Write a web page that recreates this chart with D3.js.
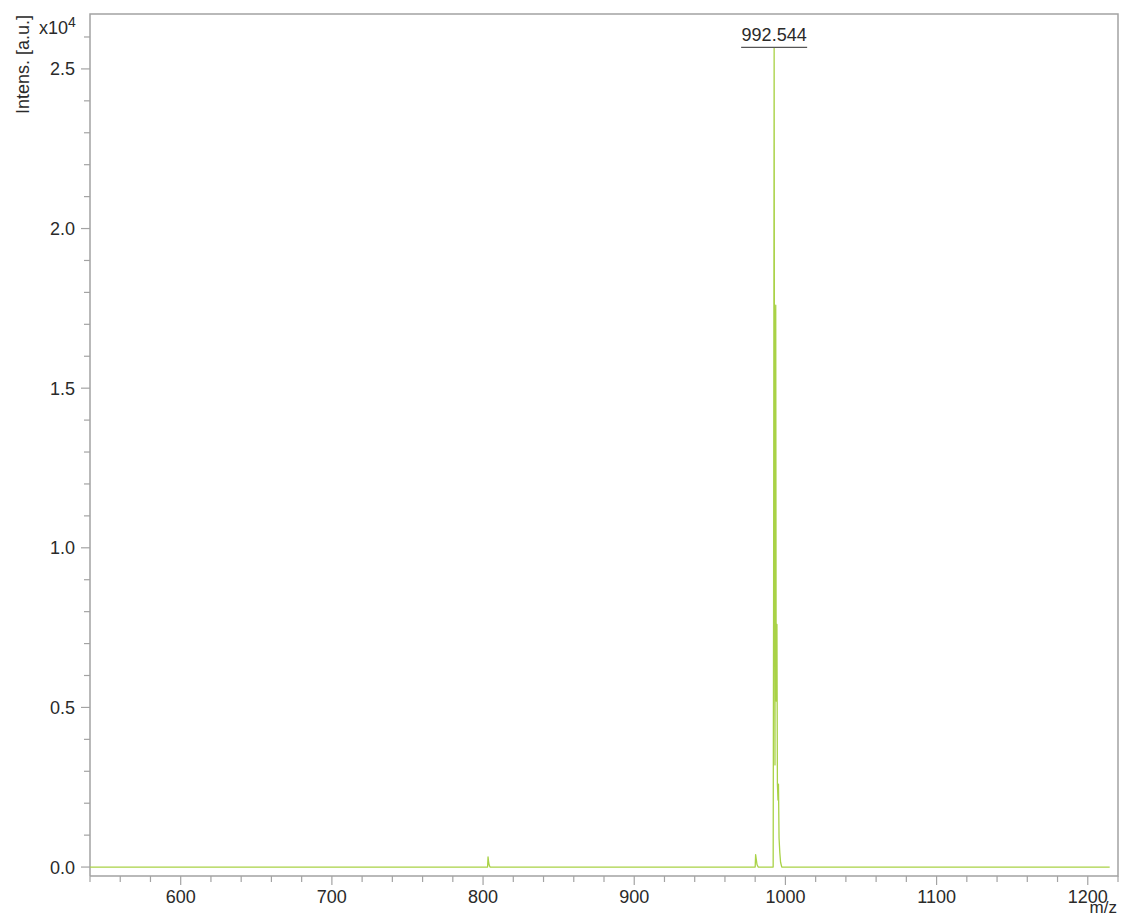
<!DOCTYPE html>
<html>
<head>
<meta charset="utf-8">
<script src="https://cdn.jsdelivr.net/npm/d3@7"></script>
<style>
  body { margin: 0; background: #fff; }
  text { font-family: "Liberation Sans", Arial, sans-serif; fill: #2a2a2a; }
</style>
</head>
<body>
<script>
// spectrum points: m/z and intensity
var mz = [540, 803.0, 803.3, 803.6, 804.0, 804.6, 980.0, 980.3, 980.7, 981.2, 982.0,
          991.9, 992.2, 992.544, 992.8, 993.1, 993.4, 993.6, 993.9, 994.2, 994.4, 994.7,
          995.1, 995.4, 995.8, 996.3, 996.8, 997.6, 1214.5];
var intens = [0, 0, 320, 190, 70, 0, 0, 390, 250, 80, 0,
              0, 9000, 25660, 11000, 3200, 16900, 17600, 5200, 6700, 7600, 2600,
              2100, 2600, 900, 450, 150, 0, 0];

var peakLabels = [{ mz: 992.544, intens: 25660, text: "992.544" }];

var xMajor = [600, 700, 800, 900, 1000, 1100, 1200];
var yMajor = [0, 5000, 10000, 15000, 20000, 25000];

var W = 1121, H = 917;
var pLeft = 90, pRight = 1118, pTop = 14, pBottom = 876;
var axisColor = "#a3a3a3";
var lineColor = "#a9d246";

var x = d3.scaleLinear().domain([540, 1220]).range([pLeft, pRight]);
var y = d3.scaleLinear().domain([-280, 26720]).range([pBottom, pTop]);

var svg = d3.select("body").append("svg").attr("width", W).attr("height", H);

// frame
svg.append("path")
    .attr("fill", "none")
    .attr("stroke", axisColor)
    .attr("stroke-width", 1.5)
    .attr("d", "M" + pLeft + "," + pBottom + "V" + pTop + "H" + pRight + "V" + pBottom + "H" + pLeft);

// x axis
var xMinor = d3.range(540, 1221, 20);
svg.append("g").selectAll("line").data(xMinor).join("line")
    .attr("x1", function(d){ return x(d); }).attr("x2", function(d){ return x(d); })
    .attr("y1", pBottom).attr("y2", function(d){ return xMajor.indexOf(d) >= 0 ? pBottom + 9 : pBottom + 6; })
    .attr("stroke", axisColor).attr("stroke-width", 1.2);
svg.append("g").selectAll("text").data(xMajor).join("text")
    .attr("x", function(d){ return x(d); })
    .attr("y", 903)
    .attr("text-anchor", "middle")
    .style("font-size", "18px")
    .text(function(d){ return d; });
svg.append("text").attr("x", 1117).attr("y", 913).attr("text-anchor", "end")
    .style("font-size", "17px").text("m/z");

// y axis
var yMinor = d3.range(0, 26001, 1000);
svg.append("g").selectAll("line").data(yMinor).join("line")
    .attr("y1", function(d){ return y(d); }).attr("y2", function(d){ return y(d); })
    .attr("x1", pLeft).attr("x2", function(d){ return yMajor.indexOf(d) >= 0 ? pLeft - 9 : pLeft - 6; })
    .attr("stroke", axisColor).attr("stroke-width", 1.2);
svg.append("g").selectAll("text").data(yMajor).join("text")
    .attr("x", 75)
    .attr("y", function(d){ return y(d) + 6.5; })
    .attr("text-anchor", "end")
    .style("font-size", "18px")
    .text(function(d){ return (d / 10000).toFixed(1); });

svg.append("text")
    .attr("transform", "translate(29,15) rotate(-90)")
    .attr("text-anchor", "end")
    .style("font-size", "18px")
    .text("Intens. [a.u.]");
var sc = svg.append("text").attr("x", 39).attr("y", 34).style("font-size", "18px");
sc.append("tspan").text("x10");
sc.append("tspan").attr("dy", -7).style("font-size", "14px").text("4");

// spectrum
var pts = mz.map(function(d, i){ return [d, intens[i]]; });
var line = d3.line()
    .x(function(d){ return x(d[0]); })
    .y(function(d){ return y(d[1]); });
svg.append("path")
    .attr("fill", "none")
    .attr("stroke", lineColor)
    .attr("stroke-width", 1.3)
    .attr("stroke-linejoin", "round")
    .attr("d", line(pts));

// peak annotation
var lab = svg.append("g").selectAll("g").data(peakLabels).join("g");
lab.append("text")
    .attr("x", function(d){ return x(d.mz); })
    .attr("y", function(d){ return y(d.intens) - 7; })
    .attr("text-anchor", "middle")
    .style("font-size", "18px")
    .text(function(d){ return d.text; });
lab.append("line")
    .attr("x1", function(d){ return x(d.mz) - 33; })
    .attr("x2", function(d){ return x(d.mz) + 33; })
    .attr("y1", function(d){ return y(d.intens) - 0.5; })
    .attr("y2", function(d){ return y(d.intens) - 0.5; })
    .attr("stroke", "#555").attr("stroke-width", 1.2);
</script>
</body>
</html>
